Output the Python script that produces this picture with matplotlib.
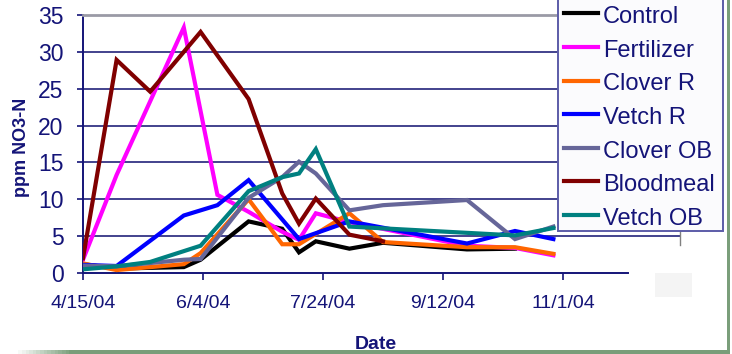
import matplotlib
matplotlib.use("Agg")
import matplotlib.pyplot as plt
import matplotlib.dates as mdates
from matplotlib.patches import Rectangle
from matplotlib.lines import Line2D
import numpy as np
import pandas as pd

plt.rcParams['font.family'] = ['Liberation Sans', 'DejaVu Sans']

NAVY = '#141478'

# --- sampling dates and soil nitrate readings (ppm NO3-N) per treatment ---
control_dates = ['2004-04-15', '2004-04-29', '2004-05-27', '2004-06-03', '2004-06-23',
                 '2004-07-07', '2004-07-14', '2004-07-21', '2004-08-04', '2004-08-18',
                 '2004-09-22', '2004-10-12']
control_vals = [1.2, 0.6, 0.8, 1.8, 7.0, 6.0, 2.8, 4.3, 3.3, 4.1, 3.2, 3.3]

fert_dates = ['2004-04-15', '2004-04-29', '2004-05-27', '2004-06-10', '2004-06-23',
              '2004-07-07', '2004-07-14', '2004-07-21', '2004-08-04', '2004-09-22',
              '2004-10-12', '2004-10-28']
fert_vals = [1.8, 13.3, 33.3, 10.6, 8.3, 5.6, 4.5, 8.1, 6.9, 3.7, 3.4, 2.4]

cloverr_dates = ['2004-04-15', '2004-04-29', '2004-05-27', '2004-06-03', '2004-06-23',
                 '2004-07-07', '2004-07-14', '2004-08-04', '2004-08-18', '2004-09-22',
                 '2004-10-12', '2004-10-28']
cloverr_vals = [1.3, 0.4, 1.2, 2.7, 10.0, 3.9, 3.9, 8.1, 4.2, 3.5, 3.5, 2.6]

vetchr_dates = ['2004-04-15', '2004-04-29', '2004-05-27', '2004-06-10', '2004-06-23',
                '2004-07-14', '2004-08-04', '2004-09-22', '2004-10-12', '2004-10-28']
vetchr_vals = [1.1, 0.95, 7.8, 9.2, 12.6, 4.6, 7.0, 4.0, 5.7, 4.6]

cloverob_dates = ['2004-04-15', '2004-04-29', '2004-05-27', '2004-06-03', '2004-06-23',
                  '2004-07-07', '2004-07-14', '2004-07-21', '2004-08-04', '2004-08-18',
                  '2004-09-22', '2004-10-12', '2004-10-28']
cloverob_vals = [1.0, 0.9, 1.8, 1.9, 10.2, 13.0, 15.1, 13.5, 8.5, 9.2, 9.9, 4.6, 6.3]

blood_dates = ['2004-04-15', '2004-04-29', '2004-05-13', '2004-06-03', '2004-06-23',
               '2004-07-07', '2004-07-14', '2004-07-21', '2004-08-04', '2004-08-18']
blood_vals = [2.0, 28.9, 24.6, 32.7, 23.6, 10.8, 6.7, 10.1, 5.2, 4.3]

vetchob_dates = ['2004-04-15', '2004-04-29', '2004-05-13', '2004-06-03', '2004-06-23',
                 '2004-07-07', '2004-07-14', '2004-07-21', '2004-08-04', '2004-10-12',
                 '2004-10-28']
vetchob_vals = [0.5, 0.9, 1.5, 3.7, 11.1, 13.0, 13.5, 16.8, 6.3, 5.1, 6.1]

series_names = ['Control', 'Fertilizer', 'Clover R', 'Vetch R', 'Clover OB',
                'Bloodmeal', 'Vetch OB']
series_dates = [control_dates, fert_dates, cloverr_dates, vetchr_dates,
                cloverob_dates, blood_dates, vetchob_dates]
series_vals = [control_vals, fert_vals, cloverr_vals, vetchr_vals,
               cloverob_vals, blood_vals, vetchob_vals]
series_colors = ['#000000', '#ff00ff', '#ff6600', '#0000ff', '#666699',
                 '#800000', '#008080']

tick_dates = ['2004-04-15', '2004-06-04', '2004-07-24', '2004-09-12', '2004-11-01']
tick_labels = ['4/15/04', '6/4/04', '7/24/04', '9/12/04', '11/1/04']
y_ticks = [0, 5, 10, 15, 20, 25, 30, 35]

W, H = 732, 354
fig = plt.figure(figsize=(W / 100, H / 100), dpi=100)
fig.patch.set_facecolor('white')


def fx(px):
    return px / W


def fy(py):
    return 1 - py / H


ax_l, ax_r, ax_t, ax_b = 83, 680, 15, 273
ax = fig.add_axes([fx(ax_l), fy(ax_b), fx(ax_r - ax_l), (ax_b - ax_t) / H])
ax.set_facecolor('none')

start = mdates.date2num(pd.Timestamp('2004-04-15'))
axis_end = start + 227
xmax = start + (ax_r - ax_l) / 2.4
ax.set_xlim(start, xmax)
ax.set_ylim(0, 35)

# horizontal gridlines
for v in y_ticks[1:-1]:
    ax.axhline(v, color='#22227a', lw=1.2, zorder=1)

for name, d, v, c in zip(series_names, series_dates, series_vals, series_colors):
    ax.plot(mdates.date2num(pd.to_datetime(d)), v, color=c, lw=3.0,
            solid_joinstyle='miter', zorder=3, label=name)

for s in ['right']:
    ax.spines[s].set_visible(False)
ax.spines['top'].set_color('#9a9aa6')
ax.spines['top'].set_linewidth(2)
ax.spines['left'].set_color(NAVY)
ax.spines['left'].set_linewidth(1.4)
ax.spines['bottom'].set_color(NAVY)
ax.spines['bottom'].set_linewidth(1.4)
ax.spines['bottom'].set_bounds(start, axis_end)

ax.set_xticks(mdates.date2num(pd.to_datetime(tick_dates)))
ax.set_xticklabels(tick_labels)
ax.set_yticks(y_ticks)
ax.set_yticklabels([str(t) for t in y_ticks])
ax.tick_params(axis='x', direction='out', length=5, width=1.2, color=NAVY,
               labelsize=14, labelcolor=NAVY, pad=11)
ax.tick_params(axis='y', direction='out', length=4, width=1.2, color=NAVY,
               labelsize=16.5, labelcolor=NAVY, pad=10)

# small stray tick at the right end of the 5 gridline
ax.plot([xmax, xmax], [3.8, 5.9], color='#808080', lw=1, clip_on=False, zorder=2)

fig.text(fx(22), fy(147), 'ppm NO3-N', rotation=90, ha='center', va='center',
         fontsize=13, fontweight='bold', color=NAVY)
fig.text(fx(376), fy(349), 'Date', ha='center', va='baseline',
         fontsize=14, fontweight='bold', color=NAVY)

# legend box, drawn in pixel positions
fig.add_artist(Rectangle((fx(558), fy(231)), fx(723 - 558), (231 + 10) / H,
                         transform=fig.transFigure, facecolor='#fbfbfd',
                         edgecolor='#5c5ca8', lw=1.4, zorder=5))
for i, (name, c) in enumerate(zip(series_names, series_colors)):
    base = 23.3 + 33.6 * i
    fig.add_artist(Line2D([fx(564), fx(598)], [fy(base - 10), fy(base - 10)],
                          transform=fig.transFigure, color=c, lw=3, zorder=6))
    fig.text(fx(603), fy(base), name, ha='left', va='baseline', fontsize=17,
             color=NAVY, zorder=6)

# faint patch lower right
fig.add_artist(Rectangle((fx(655), fy(297)), fx(37), 24 / H,
                         transform=fig.transFigure, facecolor='#f4f4f4',
                         edgecolor='none', zorder=0))

# green slide frame: right edge and bottom band fading in from the left
GREEN = np.array([0x7a, 0x9e, 0x7a]) / 255
fig.add_artist(Rectangle((fx(727), 0), fx(3), 1, transform=fig.transFigure,
                         facecolor=GREEN, edgecolor='none', zorder=7))
grad = np.linspace(0, 1, 200)
ramp = np.clip((np.linspace(0, 730, 200) - 15) / 55, 0, 1)
img = np.ones((1, 200, 3)) * (1 - ramp[None, :, None]) + GREEN[None, None, :] * ramp[None, :, None]
fax = fig.add_axes([0, 0, fx(730), 4 / H])
fax.imshow(img, aspect='auto', extent=[0, 1, 0, 1])
fax.set_axis_off()

fig.savefig('out.png', dpi=100, facecolor='white')
